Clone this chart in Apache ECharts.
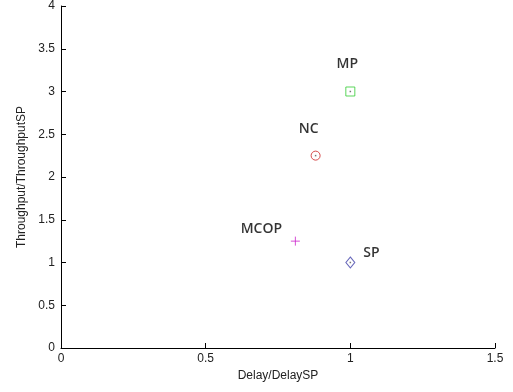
<!DOCTYPE html>
<html>
<head>
<meta charset="utf-8">
<script src="https://cdn.jsdelivr.net/npm/echarts@6/dist/echarts.min.js"></script>
<style>html,body{margin:0;padding:0;background:#fff;}#c{width:513px;height:392px;}</style>
</head>
<body>
<div id="c"></div>
<script>
const names = ['MP', 'NC', 'MCOP', 'SP'];
const delay = [1.0, 0.88, 0.81, 1.0];
const throughput = [3.0, 2.25, 1.25, 1.0];
const xTicks = [0, 0.5, 1, 1.5];
const yTicks = [0, 0.5, 1, 1.5, 2, 2.5, 3, 3.5, 4];

const markerStyles = {
  MP:   {symbol: 'rect', size: [9, 9], color: '#33cc33', offset: [-3, -27]},
  NC:   {symbol: 'circle', size: [9, 9], color: '#cc2222', offset: [-7, -27]},
  MCOP: {symbol: 'path://M5,0L5,10M0,5L10,5', size: [9, 9], color: '#cc22cc', offset: [-34, -12]},
  SP:   {symbol: 'diamond', size: [9, 11], color: '#4444aa', offset: [21, -9]}
};

const series = names.map((n, i) => {
  const s = markerStyles[n];
  return {
    type: 'scatter',
    name: n,
    symbol: s.symbol,
    symbolSize: s.size,
    itemStyle: {color: 'none', borderColor: s.color, borderWidth: 1},
    label: {
      show: true, formatter: n, position: 'inside', offset: s.offset,
      fontFamily: 'Open Sans', fontSize: 14, fontWeight: 600, color: '#000'
    },
    data: [[delay[i], throughput[i]]],
    z: 3
  };
});
series.push({
  type: 'scatter', symbol: 'rect', symbolSize: 1.5,
  itemStyle: {color: '#555'},
  data: names.map((n, i) => n === 'MCOP' ? null : [delay[i], throughput[i]]).filter(d => d),
  silent: true, z: 4
});

const axisCommon = {
  axisLine: {show: true, onZero: false, lineStyle: {color: '#000', width: 1}},
  axisTick: {show: true, inside: true, length: 5, lineStyle: {color: '#000'}},
  splitLine: {show: false},
  axisLabel: {fontFamily: 'Liberation Sans', fontSize: 12, color: '#222'},
  nameTextStyle: {fontFamily: 'Liberation Sans', fontSize: 12, color: '#222'},
  nameLocation: 'middle'
};

const chart = echarts.init(document.getElementById('c'), null, {renderer: 'canvas'});
chart.setOption({
  animation: false,
  backgroundColor: '#fff',
  grid: {left: 61, right: 18, top: 5, bottom: 44},
  xAxis: Object.assign({}, axisCommon, {
    type: 'value', min: xTicks[0], max: xTicks[xTicks.length - 1], interval: 0.5,
    name: 'Delay/DelaySP', nameGap: 22,
    axisLabel: Object.assign({}, axisCommon.axisLabel, {margin: 5})
  }),
  yAxis: Object.assign({}, axisCommon, {
    type: 'value', min: yTicks[0], max: yTicks[yTicks.length - 1], interval: 0.5,
    name: 'Throughput/ThroughputSP', nameGap: 31,
    axisLabel: Object.assign({}, axisCommon.axisLabel, {margin: 6})
  }),
  series: series
});
</script>
</body>
</html>
